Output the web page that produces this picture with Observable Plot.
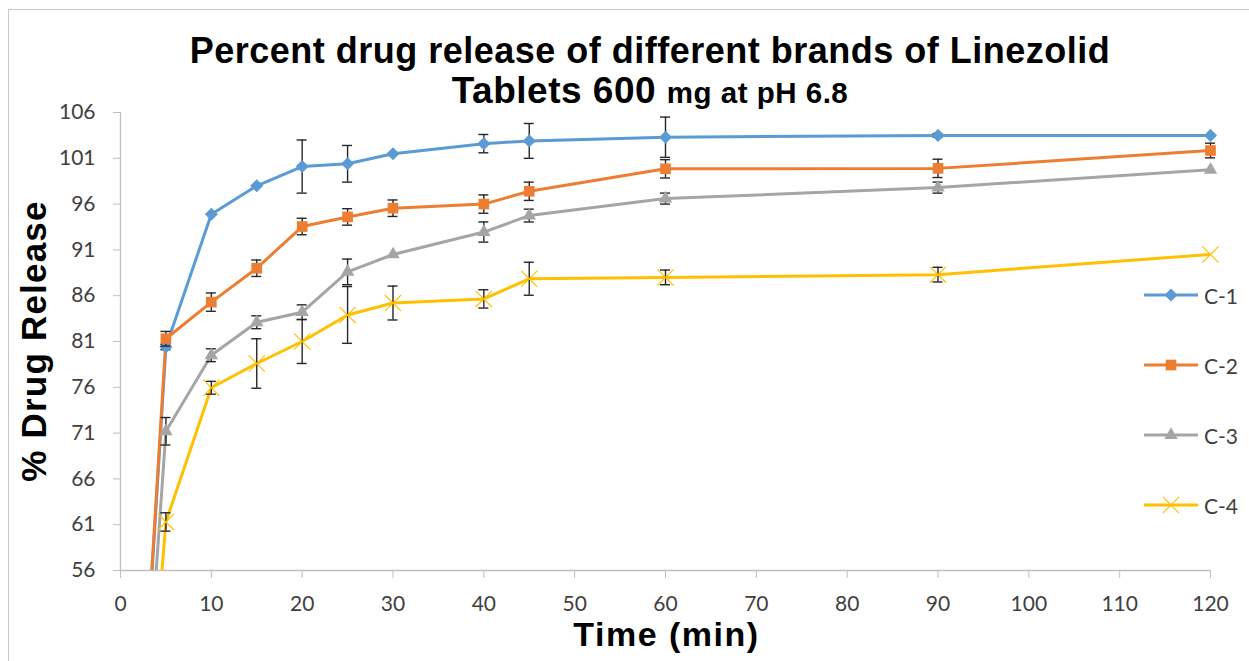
<!DOCTYPE html>
<html>
<head>
<meta charset="utf-8">
<script src="https://cdn.jsdelivr.net/npm/d3@7"></script>
<script src="https://cdn.jsdelivr.net/npm/@observablehq/plot@0.6"></script>
<style>
  html, body { margin: 0; padding: 0; background: #fff; }
  #wrap { position: relative; width: 1249px; height: 661px; overflow: hidden; background: #fff; }
  #border { position: absolute; left: 8px; top: 9px; width: 1300px; height: 700px; border: 1px solid #c8c8c8; box-sizing: border-box; }
  .title { position: absolute; left: 0; width: 1300px; text-align: center; font-family: "Liberation Sans", Arial, sans-serif; font-weight: bold; color: #000; white-space: nowrap; line-height: 1; }
  #t1 { top: 33px; font-size: 36px; letter-spacing: 0.5px; }
  #t2 { top: 71.5px; font-size: 37px; letter-spacing: 0.5px; }
  #t2 .small { font-size: 29.5px; }
  #chart { position: absolute; left: 0; top: 100px; }
  #ytitle { position: absolute; left: 33px; top: 341px; transform: translate(-50%, -50%) rotate(-90deg); font-family: "Liberation Sans", Arial, sans-serif; font-weight: bold; font-size: 35px; letter-spacing: 1.2px; white-space: nowrap; line-height: 1; color: #000; }
  #xtitle { position: absolute; left: 0; width: 1333px; text-align: center; top: 617px; font-family: "Liberation Sans", Arial, sans-serif; font-weight: bold; font-size: 34px; letter-spacing: 1.5px; line-height: 1; color: #000; }
  .leg { position: absolute; left: 1143px; height: 24px; display: flex; align-items: center; font-family: Lato, "Open Sans", sans-serif; font-size: 21px; color: #404040; }
  .leg svg { display: block; margin-right: 5px; }
</style>
</head>
<body>
<div id="wrap">
  <div id="border"></div>
  <div class="title" id="t1">Percent drug release of different brands of Linezolid</div>
  <div class="title" id="t2">Tablets 600 <span class="small">mg at pH 6.8</span></div>
  <div id="chart"></div>
  <div id="ytitle">% Drug Release</div>
  <div id="xtitle">Time (min)</div>
</div>
<script>
// ---- data ----
const times = [0, 5, 10, 15, 20, 25, 30, 40, 45, 60, 90, 120];
const seriesNames = ["C-1", "C-2", "C-3", "C-4"];
const c1 = [0, 80.4, 94.9, 98.0, 100.1, 100.4, 101.5, 102.6, 102.9, 103.3, 103.5, 103.5];
const c2 = [0, 81.3, 85.3, 89.0, 93.55, 94.6, 95.55, 96.0, 97.4, 99.85, 99.9, 101.85];
const c3 = [0, 71.2, 79.5, 83.1, 84.2, 88.6, 90.5, 92.95, 94.75, 96.6, 97.8, 99.75];
const c4 = [0, 61.3, 75.95, 78.6, 81.0, 83.9, 85.2, 85.65, 87.85, 88.0, 88.3, 90.5];
const c1err = [0, 0.3, 0, 0, 2.9, 2.0, 0, 1.0, 1.9, 2.2, 0.2, 0];
const c2err = [0, 0.8, 1.0, 0.9, 0.9, 0.9, 0.9, 1.0, 1.0, 1.0, 1.0, 0.8];
const c3err = [0, 1.5, 0.7, 0.7, 0.8, 1.4, 0, 1.1, 0.7, 0.6, 0.6, 0];
const c4err = [0, 1.0, 0.7, 2.7, 2.4, 3.1, 1.85, 1.0, 1.8, 0.8, 0.8, 0];
const xTicks = [0, 10, 20, 30, 40, 50, 60, 70, 80, 90, 100, 110, 120];
const yTicks = [56, 61, 66, 71, 76, 81, 86, 91, 96, 101, 106];

// ---- styles ----
const colors = ["#5B9BD5", "#ED7D31", "#A5A5A5", "#FFC000"];
const symbols = ["diamond2", "square", "triangle", "times"];
const symbolR = [5.9, 6.0, 5.0, 7.4];

const values = [c1, c2, c3, c4];
const errs = [c1err, c2err, c3err, c4err];
const rows = [];
seriesNames.forEach((s, i) => times.forEach((t, j) => rows.push({series: s, idx: i, t, v: values[i][j], e: errs[i][j]})));
const errRows = rows.filter(d => d.e > 0);
const capHalf = 0.55;

const marks = [
  Plot.ruleX([0], {stroke: "#bfbfbf", strokeWidth: 1.3}),
  Plot.ruleY([56], {stroke: "#bfbfbf", strokeWidth: 1.3}),
  Plot.axisX({ticks: xTicks, tickSize: 8, tickPadding: 18, stroke: "#bfbfbf", fill: "#404040", tickFormat: d => String(d), label: null}),
  Plot.axisY({ticks: yTicks, tickSize: 7, tickPadding: 18, stroke: "#bfbfbf", fill: "#404040", tickFormat: d => String(d), label: null}),
  Plot.line(rows, {x: "t", y: "v", z: "series", stroke: "series", strokeWidth: 3, clip: true})
];
seriesNames.forEach((s, i) => {
  const er = errRows.filter(d => d.series === s);
  marks.push(
    Plot.ruleX(er, {x: "t", y1: d => d.v - d.e, y2: d => d.v + d.e, stroke: "#262626", strokeWidth: 1.4}),
    Plot.ruleY(er, {y: d => d.v + d.e, x1: d => d.t - capHalf, x2: d => d.t + capHalf, stroke: "#262626", strokeWidth: 1.4}),
    Plot.ruleY(er, {y: d => d.v - d.e, x1: d => d.t - capHalf, x2: d => d.t + capHalf, stroke: "#262626", strokeWidth: 1.4})
  );
  const pts = rows.filter(d => d.series === s && d.t > 0);
  if (symbols[i] === "times") {
    marks.push(Plot.dot(pts, {x: "t", y: "v", symbol: () => symbols[i], r: symbolR[i], stroke: colors[i], strokeWidth: 1.2, fill: "none"}));
  } else {
    marks.push(Plot.dot(pts, {x: "t", y: "v", symbol: () => symbols[i], r: symbolR[i], fill: colors[i], stroke: "none"}));
  }
});

const chart = Plot.plot({
  width: 1249,
  height: 561,
  marginTop: 12,
  marginBottom: 91,
  marginLeft: 120,
  marginRight: 39,
  style: {fontFamily: "Lato, 'Open Sans', sans-serif", fontSize: "21px", background: "transparent", overflow: "visible"},
  x: {domain: [0, 120], label: null},
  y: {domain: [56, 106], label: null},
  color: {domain: seriesNames, range: colors},
  symbol: {domain: symbols, range: symbols},
  marks
});
document.getElementById("chart").appendChild(chart);

// ---- legend ----
const legendY = [295, 365, 435, 505];
const wrap = document.getElementById("wrap");
seriesNames.forEach((s, i) => {
  const div = document.createElement("div");
  div.className = "leg";
  div.style.top = (legendY[i] - 12) + "px";
  const sym = {diamond2: d3.symbolDiamond2, square: d3.symbolSquare, triangle: d3.symbolTriangle, times: d3.symbolTimes}[symbols[i]];
  const path = d3.symbol(sym, Math.PI * symbolR[i] * symbolR[i])();
  const markerAttr = symbols[i] === "times"
    ? `fill="none" stroke="${colors[i]}" stroke-width="1.2"`
    : `fill="${colors[i]}"`;
  div.innerHTML = `<svg width="56" height="24"><line x1="1" x2="55" y1="12" y2="12" stroke="${colors[i]}" stroke-width="3"/><path d="${path}" transform="translate(28,12)" ${markerAttr}/></svg><span>${s}</span>`;
  wrap.appendChild(div);
});
</script>
</body>
</html>
